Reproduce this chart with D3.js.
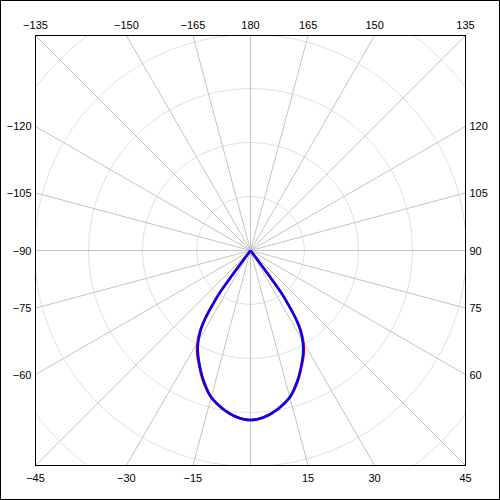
<!DOCTYPE html>
<html>
<head>
  <meta charset="utf-8">
  <title>Polar intensity</title>
  <style>
    body { margin: 0; background: #fff; }
    svg { display: block; }
    text { font-family: "Liberation Sans", Arial, sans-serif; font-size: 11px; fill: #000; }
  </style>
  <script src="https://cdn.jsdelivr.net/npm/d3@7"></script>
</head>
<body>
<script>

// angle in degrees (0 = straight down, positive to the right)
var angles = [-37, -36.5, -36, -35, -34, -33, -32, -30, -28, -25, -20, -15, -10, -5, 0,
              5, 10, 15, 20, 25, 28, 30, 32, 33, 34, 35, 36, 36.5, 37];
// intensity, blue series
var blueValues = [0, 56, 98, 120, 143, 161, 174, 193, 208, 226, 255, 281, 297, 309, 314,
                  309, 297, 281, 255, 226, 208, 193, 174, 161, 143, 120, 98, 56, 0];
// intensity, red series (drawn under the blue one)
var redValues = [0, 57, 100, 123, 146, 164, 177, 196, 211, 228, 257, 282, 298, 309, 314,
                 309, 298, 282, 257, 228, 211, 196, 177, 164, 146, 123, 100, 57, 0];
var circleTicks = [100, 200, 300, 400, 500];
var spokeAngles = d3.range(-180, 180, 15);
var labelAngles = [-135, -120, -105, -90, -75, -60, -45, -30, -15,
                   15, 30, 45, 60, 75, 90, 105, 120, 135, -150, -165, 180, 165, 150];

var width = 500, height = 500;
var plotLeft = 35.5, plotTop = 35.5, size = 430;
var cx = plotLeft + size / 2, cy = plotTop + size / 2;
var half = size / 2;

var r = d3.scaleLinear().domain([0, 500]).range([0, 270]);

var svg = d3.select("body").append("svg")
  .attr("width", width)
  .attr("height", height);

svg.append("rect")
  .attr("x", 0.5).attr("y", 0.5)
  .attr("width", width - 1).attr("height", height - 1)
  .attr("fill", "#fff").attr("stroke", "#000");

svg.append("clipPath").attr("id", "plotclip")
  .append("rect")
  .attr("x", plotLeft).attr("y", plotTop)
  .attr("width", size).attr("height", size);

var plot = svg.append("g").attr("clip-path", "url(#plotclip)");

function px(a, v) { return cx + r(v) * Math.sin(a * Math.PI / 180); }
function py(a, v) { return cy + r(v) * Math.cos(a * Math.PI / 180); }

plot.selectAll("circle.grid")
  .data(circleTicks)
  .enter().append("circle")
  .attr("class", "grid")
  .attr("cx", cx).attr("cy", cy)
  .attr("r", function(d) { return r(d); })
  .attr("fill", "none")
  .attr("stroke", "#cfe6ee")
  .attr("stroke-width", 1);

plot.selectAll("line.spoke")
  .data(spokeAngles)
  .enter().append("line")
  .attr("class", "spoke")
  .attr("x1", cx).attr("y1", cy)
  .attr("x2", function(d) { return px(d, 600); })
  .attr("y2", function(d) { return py(d, 600); })
  .attr("stroke", "#c4c4c4")
  .attr("stroke-width", 1);

var line = d3.line()
  .x(function(d) { return px(d[0], d[1]); })
  .y(function(d) { return py(d[0], d[1]); })
  .curve(d3.curveCatmullRom.alpha(0.5));

plot.append("path")
  .datum(d3.zip(angles, redValues))
  .attr("d", line)
  .attr("fill", "none")
  .attr("stroke", "#ff0000")
  .attr("stroke-width", 2.5);

plot.append("path")
  .datum(d3.zip(angles, blueValues))
  .attr("d", line)
  .attr("fill", "none")
  .attr("stroke", "#0000ff")
  .attr("stroke-width", 2.5);

svg.append("rect")
  .attr("x", plotLeft).attr("y", plotTop)
  .attr("width", size).attr("height", size)
  .attr("fill", "none").attr("stroke", "#000");

// labels where the spokes meet the frame
function fmt(d) { return d < 0 ? "\u2212" + Math.abs(d) : String(d); }

labelAngles.forEach(function(a) {
  var s = Math.sin(a * Math.PI / 180), c = Math.cos(a * Math.PI / 180);
  var t = half / Math.max(Math.abs(s), Math.abs(c));
  var x = cx + t * s, y = cy + t * c;
  var lab = svg.append("text").text(fmt(a));
  if (Math.abs(c) >= Math.abs(s) - 1e-6) {
    lab.attr("x", x).attr("text-anchor", "middle")
      .attr("y", c < 0 ? plotTop - 7 : plotTop + size + 16);
  } else {
    lab.attr("y", y + 4)
      .attr("x", s < 0 ? plotLeft - 4 : plotLeft + size + 4)
      .attr("text-anchor", s < 0 ? "end" : "start");
  }
});

</script>
</body>
</html>
